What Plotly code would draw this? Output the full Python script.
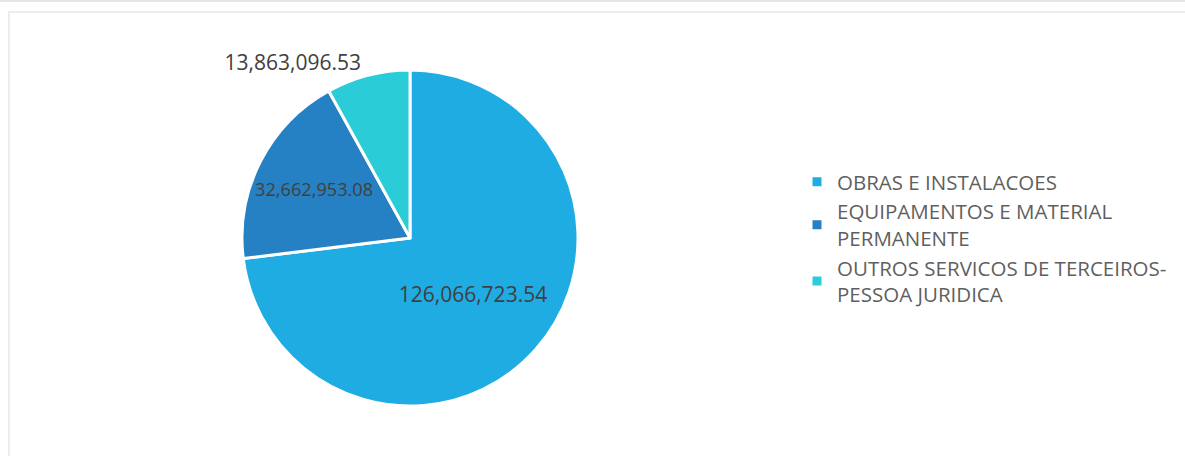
import plotly.graph_objects as go

categories = ["OBRAS E INSTALACOES", "EQUIPAMENTOS E MATERIAL<br>PERMANENTE", "OUTROS SERVICOS DE TERCEIROS-<br>PESSOA JURIDICA"]
values = [126066723.54, 32662953.08, 13863096.53]
colors = ["#1FACE3", "#2680C4", "#2ACDD7"]
text_positions = ["inside", "inside", "outside"]

W, H = 1185, 456

fig = go.Figure(go.Pie(
    labels=categories,
    values=values,
    sort=False,
    direction="clockwise",
    rotation=0,
    marker=dict(colors=colors, line=dict(color="white", width=3)),
    texttemplate="%{value:,.2f}",
    textposition=text_positions,
    insidetextorientation="horizontal",
    textfont=dict(family="Open Sans", size=21, color="#404040"),
    domain=dict(x=[242 / W, 578 / W], y=[1 - 406 / H, 1 - 70 / H]),
    hoverinfo="label+value",
))

fig.update_layout(
    width=W, height=H,
    margin=dict(l=0, r=0, t=0, b=0),
    paper_bgcolor="white",
    showlegend=True,
    legend=dict(
        x=797 / W, xanchor="left", y=1 - 238.5 / H, yanchor="middle",
        font=dict(family="Open Sans", size=20.5, color="#5F5F5F"),
        traceorder="normal",
    ),
    shapes=[
        dict(type="line", xref="paper", yref="paper", x0=0, x1=1, y0=1 - 1 / H, y1=1 - 1 / H,
             line=dict(color="#E6E6E6", width=2)),
        dict(type="rect", xref="paper", yref="paper", x0=9 / W, x1=1.01, y0=-0.05, y1=1 - 12 / H,
             line=dict(color="#E8E8E8", width=1.5)),
    ],
)

fig.write_html("out.html", config={"displayModeBar": False},
               post_script="document.body.style.margin='0';")
